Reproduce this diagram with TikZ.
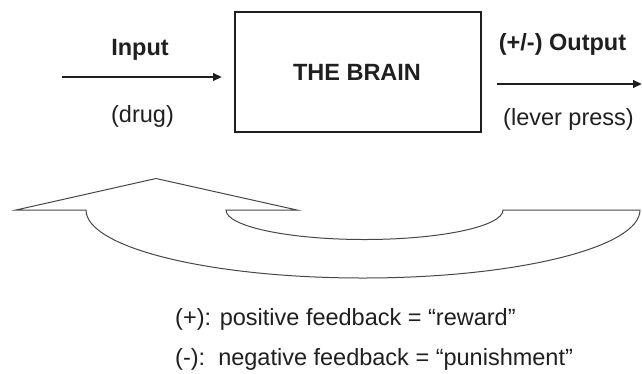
\documentclass[tikz,border=0pt]{standalone}
\usepackage{fontspec}
\setmainfont{Liberation Sans}
\usetikzlibrary{arrows.meta}
\begin{document}
\begin{tikzpicture}[x=1pt,y=-1pt,
  lbl/.style={font=\fontsize{23.5}{27}\selectfont, text=black!88, inner sep=0pt},
  blbl/.style={lbl, font=\fontsize{23.5}{27}\selectfont\bfseries},
  flow/.style={line width=2.2pt, draw=black!88, -{Triangle[length=9pt,width=7.5pt]}},
  fb/.style={line width=1pt, draw=black!72}]
\useasboundingbox (0,0) rectangle (642,373);
% brain box
\node[draw=black!88, line width=2.5pt, minimum width=246pt, minimum height=120pt, inner sep=0pt] (brain) at (358,72) {};
\node[blbl, anchor=base] (brainlbl) at (357,80) {THE BRAIN};
% input
\coordinate (inS) at (62,77);
\coordinate (inE) at (222,77);
\draw[flow] (inS) -- (inE);
\node[blbl, anchor=base] (input) at (140,55) {Input};
\node[lbl, anchor=base] (drug) at (142.5,122) {(drug)};
% output
\coordinate (outS) at (497,84);
\coordinate (outE) at (642,84);
\draw[flow] (outS) -- (outE);
\node[blbl, anchor=base] (output) at (562.5,50) {(+/-) Output};
\node[lbl, anchor=base] (lever) at (568.5,125) {(lever press)};
% feedback arrow
\draw[fb, line join=miter] (156,178.5) -- (297,210) -- (226,210)
  arc[start angle=180, end angle=0, x radius=138.5, y radius=29.5]
  -- (640,210)
  arc[start angle=0, end angle=180, x radius=277, y radius=68]
  -- (16,210) -- cycle;
% legend
\node[lbl, anchor=base west] (pos) at (175,325) {(+): positive feedback = “reward”};
\node[lbl, anchor=base west] (neg) at (175,365) {(-):\ \ negative feedback = “punishment”};
\end{tikzpicture}
\end{document}
